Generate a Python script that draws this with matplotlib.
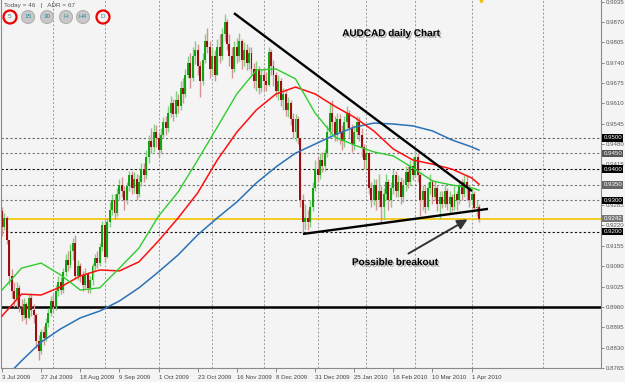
import matplotlib
matplotlib.use("Agg")
import matplotlib.pyplot as plt
import matplotlib.patheffects as pe
from matplotlib.patches import Ellipse
from matplotlib.transforms import blended_transform_factory
import numpy as np

# ---------------- data (prices in pips, 1 pip = 0.0001) ----------------
OPEN = [9265, 9215, 9245, 9175, 9060, 9010, 8985, 9020, 8960, 8935, 8970, 8925, 8990, 8950, 8935, 8850,
        8820, 8880, 8860, 8910, 8940, 8980, 8960, 9010, 9040, 9015, 9070, 9110, 9095, 9140, 9165, 9060,
        9090, 9060, 9030, 9065, 9020, 9045, 9090, 9115, 9100, 9150, 9220, 9120, 9230, 9270, 9300, 9260,
        9320, 9350, 9330, 9300, 9345, 9380, 9340, 9370, 9320, 9360, 9400, 9380, 9440, 9490, 9470, 9520,
        9500, 9460, 9510, 9550, 9530, 9580, 9610, 9575, 9620, 9600, 9660, 9640, 9700, 9740, 9690, 9760,
        9780, 9730, 9680, 9750, 9810, 9790, 9720, 9760, 9700, 9790, 9760, 9830, 9870, 9800, 9760, 9720,
        9790, 9760, 9810, 9750, 9780, 9740, 9770, 9720, 9680, 9720, 9660, 9700, 9680, 9670, 9775, 9730,
        9700, 9650, 9680, 9620, 9640, 9590, 9610, 9560, 9520, 9560, 9500, 9300, 9230, 9245, 9230, 9280,
        9340, 9400, 9380, 9430, 9410, 9450, 9520, 9580, 9550, 9510, 9560, 9520, 9490, 9550, 9580, 9530,
        9480, 9520, 9550, 9510, 9470, 9430, 9450, 9340, 9300, 9350, 9300, 9330, 9280, 9320, 9360, 9300,
        9340, 9380, 9330, 9360, 9310, 9350, 9390, 9360, 9410, 9380, 9440, 9380, 9300, 9330, 9280, 9340,
        9360, 9310, 9340, 9290, 9310, 9290, 9330, 9290, 9310, 9280, 9320, 9300, 9350, 9320, 9360, 9340,
        9300, 9320, 9275, 9280]
HIGH = [9280, 9260, 9250, 9170, 9080, 9040, 9040, 9030, 8985, 8990, 8975, 9000, 9005, 8970, 8940, 8870,
        8890, 8900, 8925, 8955, 8995, 9000, 9030, 9060, 9055, 9085, 9130, 9140, 9160, 9180, 9190, 9110,
        9100, 9075, 9085, 9070, 9060, 9100, 9130, 9140, 9165, 9235, 9240, 9245, 9295, 9320, 9320, 9340,
        9370, 9375, 9345, 9360, 9395, 9395, 9390, 9385, 9380, 9420, 9420, 9460, 9510, 9530, 9545, 9540,
        9520, 9530, 9565, 9570, 9600, 9635, 9625, 9650, 9640, 9680, 9690, 9720, 9760, 9770, 9790, 9810,
        9800, 9745, 9770, 9830, 9850, 9810, 9790, 9780, 9815, 9830, 9850, 9895, 9880, 9830, 9790, 9810,
        9820, 9835, 9815, 9805, 9800, 9790, 9790, 9740, 9745, 9730, 9720, 9725, 9710, 9790, 9785, 9750,
        9710, 9700, 9690, 9660, 9655, 9630, 9620, 9580, 9575, 9570, 9500, 9320, 9290, 9270, 9300, 9360,
        9430, 9440, 9450, 9455, 9465, 9540, 9610, 9620, 9570, 9580, 9575, 9540, 9570, 9600, 9590, 9545,
        9540, 9570, 9565, 9530, 9480, 9470, 9455, 9360, 9370, 9370, 9385, 9345, 9340, 9385, 9370, 9360,
        9400, 9395, 9380, 9375, 9370, 9410, 9410, 9430, 9440, 9468, 9450, 9390, 9350, 9345, 9360, 9385,
        9370, 9365, 9350, 9330, 9330, 9350, 9340, 9330, 9320, 9345, 9330, 9365, 9370, 9380, 9380, 9350,
        9335, 9330, 9300, 9290]
LOW = [9185, 9205, 9160, 9030, 8990, 8960, 8960, 8945, 8915, 8920, 8905, 8920, 8930, 8910, 8830, 8790,
       8810, 8840, 8850, 8895, 8930, 8945, 8950, 8995, 9000, 9005, 9060, 9075, 9085, 9110, 9050, 9045,
       9040, 9010, 9020, 9005, 9005, 9030, 9075, 9085, 9090, 9140, 9105, 9115, 9215, 9255, 9240, 9250,
       9300, 9310, 9270, 9290, 9330, 9320, 9325, 9300, 9310, 9345, 9360, 9370, 9420, 9450, 9455, 9470,
       9440, 9450, 9500, 9510, 9520, 9565, 9555, 9565, 9580, 9590, 9610, 9630, 9690, 9660, 9680, 9735,
       9700, 9630, 9670, 9740, 9770, 9690, 9700, 9680, 9700, 9740, 9750, 9810, 9780, 9730, 9690, 9710,
       9740, 9745, 9720, 9730, 9715, 9720, 9705, 9660, 9650, 9640, 9645, 9650, 9650, 9665, 9700, 9665,
       9630, 9620, 9600, 9590, 9570, 9565, 9540, 9500, 9490, 9480, 9280, 9195, 9210, 9205, 9215, 9265,
       9330, 9360, 9370, 9390, 9395, 9440, 9505, 9520, 9490, 9490, 9480, 9460, 9470, 9530, 9500, 9455,
       9460, 9500, 9490, 9440, 9400, 9400, 9320, 9280, 9285, 9270, 9280, 9230, 9240, 9300, 9270, 9280,
       9320, 9310, 9310, 9290, 9295, 9330, 9340, 9350, 9365, 9375, 9360, 9250, 9270, 9260, 9270, 9320,
       9290, 9300, 9265, 9240, 9275, 9280, 9270, 9260, 9265, 9270, 9270, 9290, 9300, 9310, 9300, 9280,
       9285, 9265, 9250, 9230]
CLOSE = [9215, 9245, 9175, 9060, 9010, 8985, 9020, 8960, 8935, 8970, 8925, 8990, 8950, 8935, 8850, 8820,
         8880, 8860, 8910, 8940, 8980, 8960, 9010, 9040, 9015, 9070, 9110, 9095, 9140, 9165, 9060, 9090,
         9060, 9030, 9065, 9020, 9045, 9090, 9115, 9100, 9150, 9220, 9120, 9230, 9270, 9300, 9260, 9320,
         9350, 9330, 9300, 9345, 9380, 9340, 9370, 9320, 9360, 9400, 9380, 9440, 9490, 9470, 9520, 9500,
         9460, 9510, 9550, 9530, 9580, 9610, 9575, 9620, 9600, 9660, 9640, 9700, 9740, 9690, 9760, 9780,
         9730, 9680, 9750, 9810, 9790, 9720, 9760, 9700, 9790, 9760, 9830, 9870, 9800, 9760, 9720, 9790,
         9760, 9810, 9750, 9780, 9740, 9770, 9720, 9680, 9720, 9660, 9700, 9680, 9670, 9775, 9730, 9700,
         9650, 9680, 9620, 9640, 9590, 9610, 9560, 9520, 9560, 9500, 9300, 9230, 9245, 9230, 9280, 9340,
         9400, 9380, 9430, 9410, 9450, 9520, 9580, 9550, 9510, 9560, 9520, 9490, 9550, 9580, 9530, 9480,
         9520, 9550, 9510, 9470, 9430, 9450, 9340, 9300, 9350, 9300, 9330, 9280, 9320, 9360, 9300, 9340,
         9380, 9330, 9360, 9310, 9350, 9390, 9360, 9410, 9380, 9440, 9380, 9300, 9330, 9280, 9340, 9360,
         9310, 9340, 9290, 9310, 9290, 9330, 9290, 9310, 9280, 9320, 9300, 9350, 9320, 9360, 9340, 9300,
         9320, 9275, 9280, 9242]

# moving averages, read every 8 bars (plus last bar)
MA_BARS = [0, 8, 16, 24, 32, 40, 48, 56, 64, 72, 80, 88, 96, 104, 112, 120, 128, 136, 144, 152,
           160, 168, 176, 184, 192, 195]
MA_GREEN = [9014, 9084, 9100, 9062, 9014, 9021, 9084, 9148, 9250, 9327, 9429, 9534, 9640, 9716, 9720,
            9688, 9579, 9503, 9477, 9455, 9442, 9404, 9362, 9349, 9340, 9333]
MA_RED = [8931, 9001, 8998, 9024, 9059, 9078, 9075, 9104, 9171, 9244, 9324, 9429, 9518, 9589, 9640,
          9662, 9640, 9601, 9566, 9522, 9464, 9429, 9416, 9400, 9372, 9352]
MA_BLUE = [8724, 8788, 8848, 8890, 8925, 8947, 8979, 9021, 9072, 9126, 9190, 9244, 9295, 9356, 9407,
           9451, 9480, 9509, 9534, 9547, 9544, 9538, 9522, 9493, 9471, 9461]

DATE_TICKS = [0, 16, 32, 48, 64, 80, 96, 112, 128, 144, 160, 176, 192]
DATE_LABELS = ["3 Jul 2009", "27 Jul 2009", "18 Aug 2009", "9 Sep 2009", "1 Oct 2009", "23 Oct 2009",
               "16 Nov 2009", "8 Dec 2009", "31 Dec 2009", "25 Jan 2010", "16 Feb 2010", "10 Mar 2010",
               "1 Apr 2010"]
MONTH_GRID = [21, 42, 64, 86, 107, 129, 149, 169, 192, 221]
Y_TICKS = [0.9935, 0.9870, 0.9805, 0.9740, 0.9675, 0.9610, 0.9545, 0.9480, 0.9415, 0.9350, 0.9285,
           0.9220, 0.9155, 0.9090, 0.9025, 0.8960, 0.8895, 0.8830, 0.8765]
LEVELS = [0.9500, 0.9450, 0.9400, 0.9350, 0.9300, 0.9200]
LEVEL_COLORS = ["#666666", "#777777", "#111111", "#777777", "#777777", "#111111"]
BOX_LEVELS = [0.9500, 0.9450, 0.9400, 0.9350, 0.9300, 0.9242, 0.9200]
BOX_COLORS = ["#000000", "#555555", "#000000", "#666666", "#000000", "#777777", "#000000"]
CURRENT = 0.9242
SUPPORT = 0.8960
UPPER_TL = ([94.85, 192.15], [0.9898, 0.9330])
LOWER_TL = ([123.06, 198.7], [0.9193, 0.9273])
ARROW_TAIL = (165.2, 0.9126)
ARROW_HEAD = (191.3, 0.9244)
TF_BUTTONS = ["5", "15", "30", "H", "H4", "D"]

# ---------------- figure ----------------
W, H = 625, 382
bg = "#f4f4f4"
fig = plt.figure(figsize=(W / 100, H / 100), dpi=100, facecolor=bg)
ax = fig.add_axes([1 / W, 14 / H, 600 / W, 368 / H])
ax.set_facecolor(bg)
ax.set_xlim(-0.41, 244.9)
ax.set_ylim(0.8765, 0.9940)

o = np.array(OPEN) / 1e4
h = np.array(HIGH) / 1e4
l = np.array(LOW) / 1e4
c = np.array(CLOSE) / 1e4
idx = np.arange(len(c))
up = c >= o

# grid
for xg in MONTH_GRID:
    ax.axvline(xg, color="#9a9a9a", lw=0.7, ls=(0, (2, 2)), zorder=1)
for lv, col in zip(LEVELS, LEVEL_COLORS):
    ax.axhline(lv, color=col, lw=0.8, ls=(0, (2, 2)), zorder=1)
ax.axhline(CURRENT, color="#f5c400", lw=1.2, zorder=1.5)
ax.axhline(SUPPORT, color="black", lw=1.8, zorder=1.6)

# candles
ax.vlines(idx[up], l[up], h[up], color="#7fd07f", lw=1.0, zorder=2)
ax.vlines(idx[~up], l[~up], h[~up], color="#d49494", lw=1.0, zorder=2)
ax.bar(idx[up], (c - o)[up], bottom=o[up], width=0.8, color="#13a313", lw=0, zorder=2.2)
ax.bar(idx[~up], (c - o)[~up], bottom=o[~up], width=0.8, color="#9a1010", lw=0, zorder=2.2)

# moving averages
mb = np.array(MA_BARS)
ax.plot(mb, np.array(MA_BLUE) / 1e4, color="#2a72b5", lw=1.1, zorder=4)
ax.plot(mb, np.array(MA_RED) / 1e4, color="#ff1010", lw=1.1, zorder=4)
ax.plot(mb, np.array(MA_GREEN) / 1e4, color="#2ecc2e", lw=1.0, zorder=4)

# trend lines and arrow
ax.plot(*UPPER_TL, color="black", lw=1.7, zorder=5, solid_capstyle="butt")
ax.plot(*LOWER_TL, color="black", lw=1.7, zorder=5, solid_capstyle="butt")
ax.annotate("", xy=ARROW_HEAD, xytext=ARROW_TAIL,
            arrowprops=dict(arrowstyle="-|>,head_length=0.6,head_width=0.3", color="#333333", lw=1.4),
            zorder=6)

shadow = [pe.SimplePatchShadow(offset=(1.2, -1.2), shadow_rgbFace="#8a8a8a", alpha=0.7), pe.Normal()]
ax.text(159.0, 0.9834, "AUDCAD daily Chart", ha="center", va="center", fontsize=7.2,
        fontweight="bold", family="Liberation Sans", color="black", path_effects=shadow, zorder=7)
ax.text(160.7, 0.9103, "Possible breakout", ha="center", va="center", fontsize=7.2,
        fontweight="bold", family="Liberation Sans", color="black", path_effects=shadow, zorder=7)

# axes styling
ax.spines["top"].set_visible(False)
for s in ["right", "bottom", "left"]:
    ax.spines[s].set_color("#8a8a8a")
    ax.spines[s].set_linewidth(0.8)

ax.yaxis.tick_right()
ax.set_yticks(Y_TICKS)
# tick labels hidden under a price box are left blank
ax.set_yticklabels(["" if any(abs(v - b) < 1e-6 for b in BOX_LEVELS) else f"{v:.4f}" for v in Y_TICKS])
ax.tick_params(axis="y", length=2, width=0.6, color="#777777", pad=1.5, labelsize=4.4,
               labelcolor="#555555")
ax.set_xticks(DATE_TICKS)
ax.set_xticklabels(DATE_LABELS)
ax.tick_params(axis="x", length=3, width=0.6, color="#777777", pad=2, labelsize=4.4,
               labelcolor="#444444")
for lbl in ax.get_xticklabels():
    lbl.set_ha("left")
for lbl in ax.get_xticklabels() + ax.get_yticklabels():
    lbl.set_family("Liberation Sans")

trans = blended_transform_factory(ax.transAxes, ax.transData)
for lv, col in zip(BOX_LEVELS, BOX_COLORS):
    ax.text(1.004, lv, f"{lv:.4f}", transform=trans, ha="left", va="center", color="white",
            fontsize=4.4, family="Liberation Sans", zorder=10, clip_on=False,
            bbox=dict(boxstyle="square,pad=0.2", fc=col, ec="none"))

# small marker at top
ax.plot([195.8], [0.99385], marker="v", color="#f0c000", ms=3.5, zorder=8, clip_on=False)

# top-left info
fig.text(4 / W, 1 - 6 / H, "Today = 46   |   ADR = 67", fontsize=4.6, color="#555555",
         family="Liberation Sans", va="center", ha="left")
btn_x = [10, 28, 47, 66, 83, 103]
for bx, lab in zip(btn_x, TF_BUTTONS):
    red = lab in ("5", "D")
    e = Ellipse((bx / W, 1 - 17 / H), 13 / W, 13 / H, transform=fig.transFigure,
                fc="#f2f2f2" if red else "#c8c8c8", ec="#ee0000" if red else "#b0b0b0",
                lw=1.6 if red else 0.8, zorder=10)
    fig.add_artist(e)
    fig.text(bx / W, 1 - 17 / H, lab, fontsize=4.6, color="#2a8a9a", ha="center", va="center",
             family="Liberation Sans", zorder=11)

fig.savefig("out.png", dpi=100, facecolor=bg)
